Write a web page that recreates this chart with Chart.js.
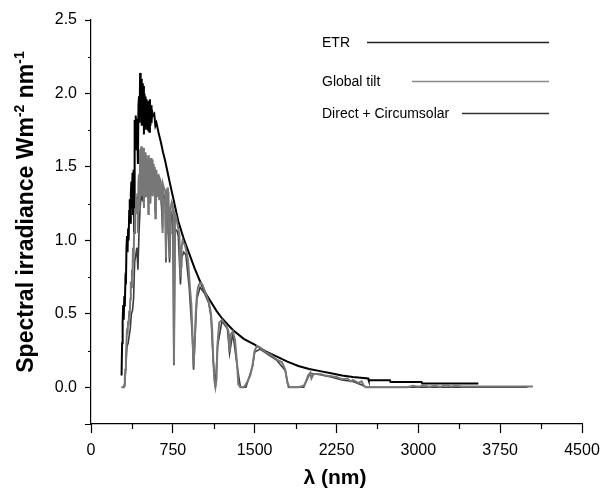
<!DOCTYPE html>
<html>
<head>
<meta charset="utf-8">
<script src="https://cdn.jsdelivr.net/npm/chart.js@4.4.1/dist/chart.umd.min.js"></script>
<style>
  html, body { margin: 0; padding: 0; background: #fff; }
  canvas { display: block; }
</style>
</head>
<body>
<canvas id="chart" width="608" height="489"></canvas>
<script>
// values (wavelength in nm, irradiance in W m-2 nm-1)
const etrNm = [280, 285, 290, 295, 300, 305, 310, 315, 320, 325, 330, 335, 340, 345, 350, 355, 360, 365, 370, 375,
  380, 385, 390, 395, 400, 405, 410, 415, 420, 425, 430, 435, 440, 445, 450, 455, 460, 465, 470, 475,
  480, 485, 490, 495, 500, 505, 510, 515, 520, 525, 530, 535, 540, 545, 550, 555, 560, 570, 580, 590, 600, 620,
  640, 660, 680, 700, 720, 750, 800, 850, 900, 950, 1000, 1050, 1100, 1150, 1200, 1250, 1300, 1400, 1500, 1600,
  1700, 1800, 1900, 2000, 2100, 2200, 2300, 2400, 2540, 2545, 2740, 2745, 3030, 3035, 3550];
const etrVal = [0.08, 0.30, 0.45, 0.56, 0.46, 0.62, 0.55, 0.72, 0.70, 0.95, 1.03, 0.92, 1.08, 1.00, 1.20, 1.28, 1.12, 1.32, 1.40, 1.22,
  1.46, 1.18, 1.48, 1.05, 1.82, 1.62, 1.85, 1.66, 1.83, 1.70, 1.52, 1.92, 1.98, 1.80, 2.14, 1.86, 2.10, 1.78, 2.07, 1.84,
  2.05, 1.72, 2.00, 1.80, 1.98, 1.76, 1.96, 1.78, 1.94, 1.75, 1.95, 1.74, 1.96, 1.78, 1.92, 1.80, 1.88, 1.85, 1.86, 1.78, 1.80, 1.73,
  1.67, 1.60, 1.54, 1.47, 1.40, 1.30, 1.13, 1.01, 0.91, 0.81, 0.72, 0.64, 0.58, 0.52, 0.47, 0.43, 0.39, 0.33, 0.29, 0.245,
  0.21, 0.175, 0.145, 0.125, 0.11, 0.095, 0.08, 0.07, 0.06, 0.048, 0.048, 0.036, 0.036, 0.025, 0.025];

const globalNm = [280, 300, 305, 310, 315, 320, 325, 330, 335, 340, 345, 350, 355, 360, 365, 370, 375, 380, 385, 390,
  395, 400, 405, 410, 415, 420, 425, 430, 435, 440, 445, 450, 455, 460, 465, 470, 475, 480, 485, 490,
  495, 500, 505, 510, 515, 520, 525, 530, 535, 540, 545, 550, 555, 560, 565, 570, 575, 580, 585, 590,
  595, 600, 605, 610, 615, 620, 625, 630, 640, 645, 650, 656, 660, 670, 680, 687, 690, 695, 700, 705,
  710, 715, 720, 725, 730, 740, 750, 755, 760, 765, 770, 780, 790, 800, 810, 820, 825, 830, 840, 850,
  860, 870, 880, 890, 900, 910, 920, 930, 940, 950, 960, 970, 980, 990, 1000, 1020, 1040, 1060, 1080, 1100,
  1110, 1120, 1130, 1140, 1150, 1160, 1175, 1200, 1220, 1240, 1260, 1270, 1280, 1300, 1320, 1340, 1350, 1370, 1400, 1420,
  1440, 1460, 1480, 1500, 1520, 1550, 1600, 1650, 1700, 1750, 1780, 1800, 1820, 1900, 1950, 1970, 1990, 2010, 2020, 2040,
  2100, 2150, 2200, 2250, 2300, 2350, 2380, 2400, 2450, 2480, 2500, 2520, 2900, 2950, 3000, 3050, 3100, 3150, 3200, 3250,
  3300, 3350, 3400, 4050];
const globalVal = [0, 0, 0.01, 0.06, 0.12, 0.22, 0.30, 0.40, 0.36, 0.45, 0.42, 0.52, 0.48, 0.60, 0.72, 0.68, 0.80, 0.75, 0.95, 0.85,
  1.05, 1.15, 1.22, 1.18, 1.30, 1.25, 1.32, 1.05, 1.40, 1.45, 1.20, 1.62, 1.35, 1.64, 1.30, 1.60, 1.40, 1.63, 1.22, 1.58,
  1.38, 1.60, 1.30, 1.58, 1.42, 1.55, 1.18, 1.58, 1.35, 1.55, 1.25, 1.56, 1.40, 1.55, 1.30, 1.52, 1.38, 1.50, 1.32, 1.15,
  1.45, 1.48, 1.30, 1.45, 1.35, 1.45, 1.28, 1.42, 1.40, 1.25, 1.38, 1.05, 1.38, 1.35, 1.34, 0.88, 1.05, 1.30, 1.36, 1.25,
  1.33, 1.10, 0.88, 1.05, 1.22, 1.26, 1.24, 1.15, 0.16, 0.60, 1.18, 1.16, 1.12, 1.08, 1.04, 0.75, 0.82, 0.95, 1.00, 0.98,
  0.97, 0.94, 0.90, 0.86, 0.75, 0.65, 0.56, 0.35, 0.14, 0.30, 0.50, 0.62, 0.68, 0.70, 0.71, 0.70, 0.66, 0.62, 0.58, 0.50,
  0.40, 0.20, 0.05, 0.0, 0.05, 0.30, 0.44, 0.46, 0.44, 0.42, 0.38, 0.24, 0.36, 0.38, 0.32, 0.15, 0.02, 0.0, 0.0, 0.02,
  0.05, 0.08, 0.15, 0.25, 0.28, 0.27, 0.24, 0.22, 0.19, 0.17, 0.12, 0.03, 0.0, 0.0, 0.01, 0.04, 0.08, 0.10, 0.06, 0.09,
  0.09, 0.08, 0.075, 0.07, 0.055, 0.06, 0.04, 0.05, 0.03, 0.04, 0.01, 0.0, 0.0, 0.01, 0.003, 0.012, 0.004, 0.01, 0.003, 0.015,
  0.005, 0.01, 0.005, 0.005];

const directNm = [280, 300, 310, 320, 330, 340, 350, 360, 370, 380, 390, 400, 410, 420, 430, 440, 450, 460, 470, 480,
  490, 500, 510, 520, 530, 540, 550, 560, 570, 580, 590, 600, 620, 640, 656, 660, 680, 687, 695, 700,
  720, 730, 740, 750, 760, 770, 790, 800, 820, 830, 850, 870, 900, 930, 940, 950, 970, 1000, 1040, 1080,
  1100, 1120, 1140, 1160, 1200, 1250, 1270, 1300, 1340, 1370, 1420, 1480, 1500, 1550, 1600, 1700, 1780, 1810, 1950, 1990,
  2010, 2100, 2200, 2300, 2400, 2500, 2520, 4000];
const directVal = [0, 0, 0.03, 0.15, 0.28, 0.30, 0.35, 0.40, 0.50, 0.52, 0.60, 0.85, 0.90, 0.95, 0.80, 1.05, 1.22, 1.30, 1.28, 1.35,
  1.30, 1.38, 1.36, 1.33, 1.40, 1.37, 1.40, 1.38, 1.36, 1.38, 1.20, 1.36, 1.35, 1.33, 1.08, 1.32, 1.28, 0.85, 1.20, 1.25,
  0.85, 1.10, 1.18, 1.16, 0.15, 1.08, 1.06, 1.03, 0.70, 0.88, 0.92, 0.90, 0.68, 0.33, 0.12, 0.28, 0.60, 0.68, 0.64, 0.57,
  0.48, 0.18, 0.0, 0.28, 0.45, 0.40, 0.23, 0.37, 0.14, 0.0, 0.0, 0.14, 0.24, 0.26, 0.235, 0.185, 0.115, 0.0, 0.0, 0.07,
  0.095, 0.085, 0.07, 0.05, 0.04, 0.01, 0.0, 0.0];

const legendLabels = ["ETR", "Global tilt", "Direct + Circumsolar"];
const xTicks = [0, 750, 1500, 2250, 3000, 3750, 4500];
const yTicks = [0, 0.5, 1.0, 1.5, 2.0, 2.5];

const FONT = "'Liberation Sans', Arial, Helvetica, sans-serif";
const colors = ["#000000", "#777777", "#3c3c3c"];
const legendColors = ["#222222", "#8a8a8a", "#333333"];

function pts(xs, ys) {
  return xs.map((x, i) => ({ x: x, y: ys[i] }));
}

// minor ticks, custom legend and axis titles (with superscripts)
const decorPlugin = {
  id: "decor",
  afterDraw(chart) {
    const ctx = chart.ctx;
    const xs = chart.scales.x, ys = chart.scales.y;
    const area = chart.chartArea;
    ctx.save();
    ctx.strokeStyle = "#000";
    ctx.lineWidth = 1.2;
    ctx.beginPath();
    for (let v = -0.25; v < 2.5; v += 0.5) {
      const y = Math.round(ys.getPixelForValue(v)) + 0.5;
      const len = v < 0 ? 6 : 3;
      ctx.moveTo(area.left - len, y);
      ctx.lineTo(area.left, y);
    }
    for (let v = 375; v < 4500; v += 750) {
      const x = Math.round(xs.getPixelForValue(v)) + 0.5;
      ctx.moveTo(x, area.bottom);
      ctx.lineTo(x, area.bottom + 5);
    }
    ctx.stroke();

    // legend: label on the left, line sample on the right
    const rows = [
      { y: 42, lineStart: 367 },
      { y: 81, lineStart: 412 },
      { y: 113, lineStart: 462 }
    ];
    ctx.font = "14px " + FONT;
    ctx.textBaseline = "middle";
    ctx.textAlign = "left";
    rows.forEach((r, i) => {
      ctx.fillStyle = "#000";
      ctx.fillText(legendLabels[i], 322, r.y + 1);
      ctx.strokeStyle = legendColors[i];
      ctx.lineWidth = 1.4;
      ctx.beginPath();
      ctx.moveTo(r.lineStart, r.y + 0.5);
      ctx.lineTo(549, r.y + 0.5);
      ctx.stroke();
    });

    // x title
    ctx.fillStyle = "#000";
    ctx.font = "bold 21px " + FONT;
    ctx.textAlign = "center";
    ctx.textBaseline = "middle";
    ctx.fillText("λ (nm)", 335, 478);

    // y title, rotated, with superscripts
    const big = "bold 23px " + FONT, small = "bold 14px " + FONT;
    const parts = [
      ["Spectral irradiance Wm", big, 0],
      ["-2", small, -9],
      [" nm", big, 0],
      ["-1", small, -9]
    ];
    let total = 0;
    parts.forEach(p => { ctx.font = p[1]; total += ctx.measureText(p[0]).width; });
    ctx.translate(25, 212);
    ctx.rotate(-Math.PI / 2);
    ctx.textAlign = "left";
    ctx.textBaseline = "alphabetic";
    let cx = -total / 2;
    parts.forEach(p => {
      ctx.font = p[1];
      ctx.fillText(p[0], cx, 8 + p[2]);
      cx += ctx.measureText(p[0]).width;
    });
    ctx.restore();
  }
};

new Chart(document.getElementById("chart"), {
  type: "line",
  data: {
    datasets: [
      { label: legendLabels[0], data: pts(etrNm, etrVal), borderColor: colors[0], borderWidth: 2, order: 3 },
      { label: legendLabels[1], data: pts(globalNm, globalVal), borderColor: colors[1], borderWidth: 2, order: 1 },
      { label: legendLabels[2], data: pts(directNm, directVal), borderColor: colors[2], borderWidth: 1.6, order: 2 }
    ]
  },
  options: {
    responsive: false,
    animation: false,
    devicePixelRatio: 1,
    layout: { padding: { top: 20, right: 26, left: 0, bottom: 0 } },
    elements: { point: { radius: 0 }, line: { tension: 0, fill: false } },
    plugins: { legend: { display: false }, tooltip: { enabled: false } },
    scales: {
      x: {
        type: "linear",
        min: 0,
        max: 4500,
        afterBuildTicks: s => { s.ticks = xTicks.map(v => ({ value: v })); },
        afterFit: s => { s.height = 65; },
        ticks: { color: "#000", font: { family: FONT, size: 16 }, padding: 8, maxRotation: 0, callback: v => String(v) },
        grid: { drawOnChartArea: false, drawTicks: true, tickLength: 9, color: "#000", tickWidth: 1.2 },
        border: { display: true, color: "#000", width: 1.2 }
      },
      y: {
        min: -0.25,
        max: 2.5,
        afterBuildTicks: s => { s.ticks = yTicks.map(v => ({ value: v })); },
        afterFit: s => { s.width = 91; },
        ticks: { color: "#000", font: { family: FONT, size: 16 }, padding: 8, callback: v => v.toFixed(1) },
        grid: { drawOnChartArea: false, drawTicks: true, tickLength: 6, color: "#000", tickWidth: 1.2 },
        border: { display: true, color: "#000", width: 1.2 }
      }
    }
  },
  plugins: [decorPlugin]
});
</script>
</body>
</html>
